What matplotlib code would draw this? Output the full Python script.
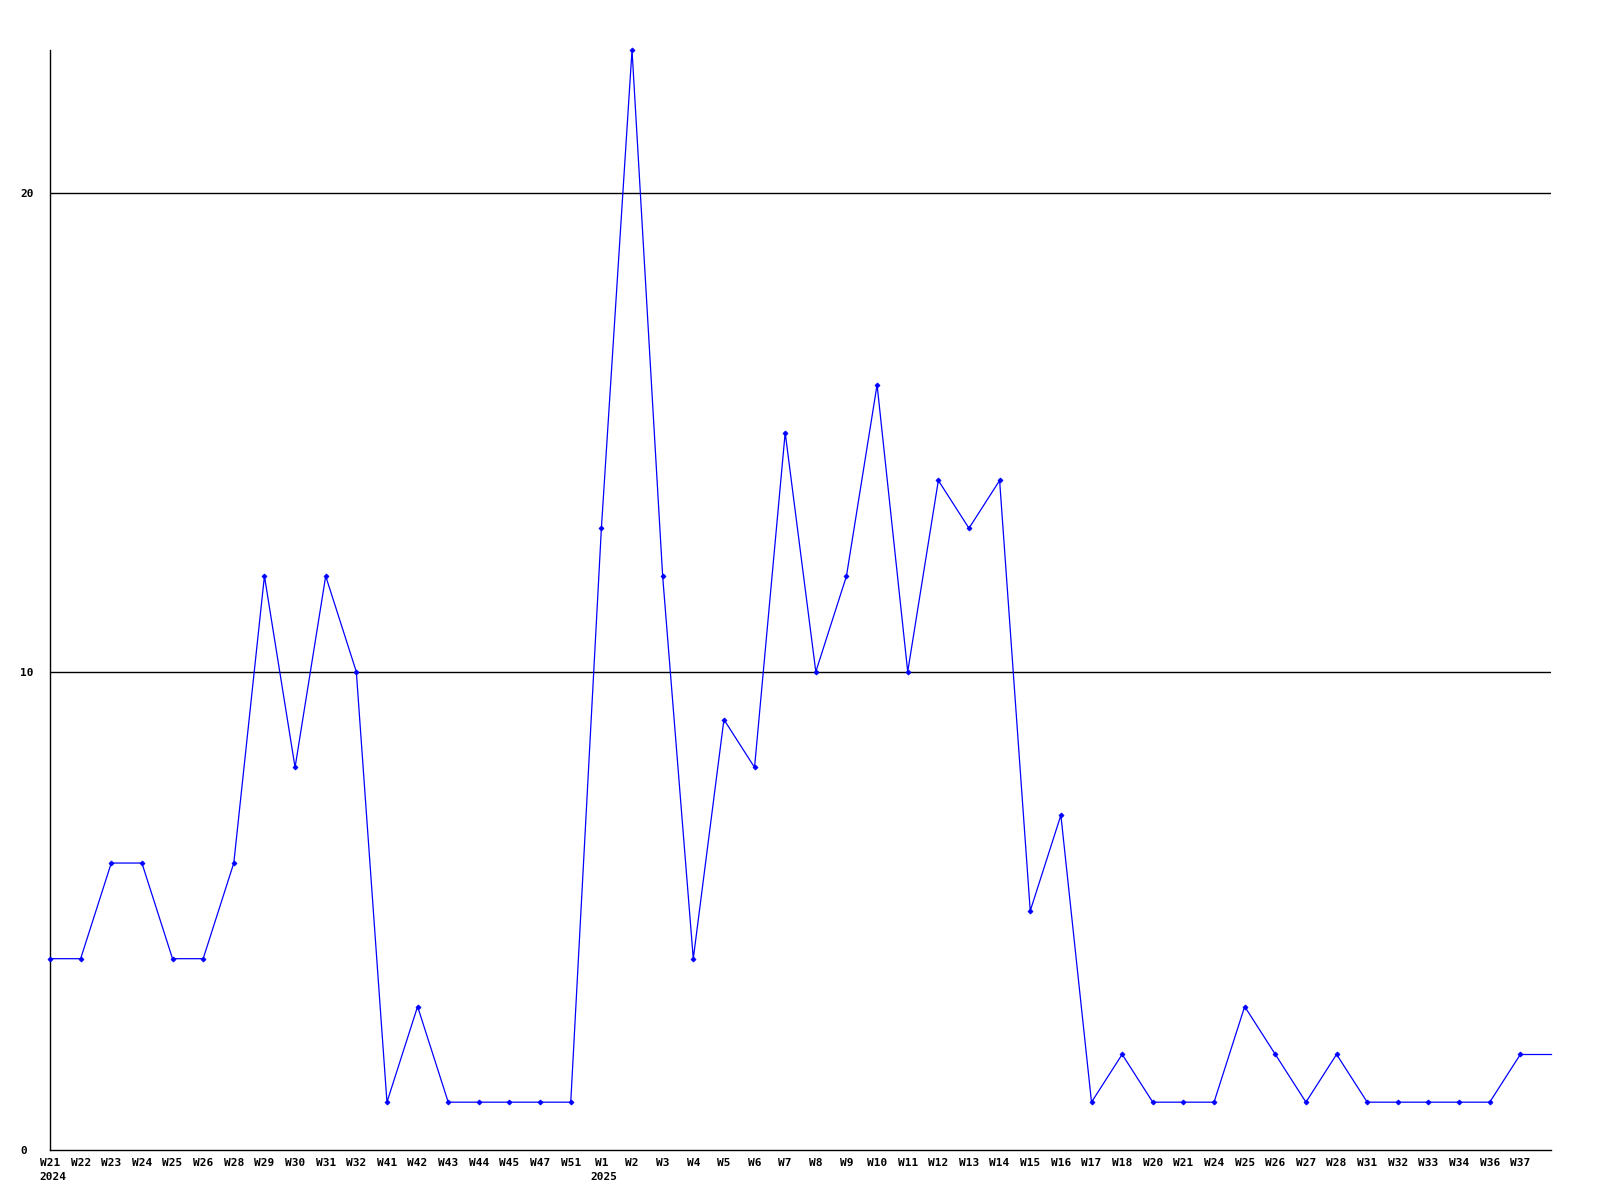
import matplotlib
matplotlib.use("Agg")
import matplotlib.pyplot as plt
from matplotlib.transforms import blended_transform_factory

week_labels = ["W21", "W22", "W23", "W24", "W25", "W26", "W28", "W29", "W30", "W31",
               "W32", "W41", "W42", "W43", "W44", "W45", "W47", "W51",
               "W1", "W2", "W3", "W4", "W5", "W6", "W7", "W8", "W9", "W10",
               "W11", "W12", "W13", "W14", "W15", "W16", "W17", "W18", "W20", "W21",
               "W24", "W25", "W26", "W27", "W28", "W31", "W32", "W33", "W34", "W36", "W37"]
values = [4, 4, 6, 6, 4, 4, 6, 12, 8, 12, 10, 1, 3, 1, 1, 1, 1, 1,
          13, 23, 12, 4, 9, 8, 15, 10, 12, 16, 10, 14, 13, 14, 5, 7, 1, 2,
          1, 1, 1, 3, 2, 1, 2, 1, 1, 1, 1, 1, 2]
years = ["2024", "2025"]
year_start = [0, 18]
y_ticks = [0, 10, 20]

FONT = "DejaVu Sans Mono"
FS = 8

fig = plt.figure(figsize=(16, 12), dpi=100)
ax = fig.add_axes([50 / 1600, 50 / 1200, 1501 / 1600, 1100 / 1200])

n = len(values)
x = list(range(n))

for yv in y_ticks[1:]:
    ax.axhline(yv, color="black", linewidth=1.0, zorder=1)

ax.plot(x, values, color="#0000ff", linewidth=0.9, marker="D", markersize=2.6,
        markeredgewidth=0.5, clip_on=False, zorder=3)
ax.plot([n - 1, n], [values[-1], values[-1]], color="#0000ff", linewidth=0.9,
        clip_on=False, zorder=3)

ax.set_xlim(0, n)
ax.set_ylim(0, max(values))

for s in ["top", "right"]:
    ax.spines[s].set_visible(False)
for s in ["left", "bottom"]:
    ax.spines[s].set_linewidth(1.0)
    ax.spines[s].set_color("black")

ax.set_xticks(x)
ax.set_xticklabels(week_labels, fontfamily=FONT, fontweight="bold", fontsize=FS)
ax.tick_params(axis="x", length=0, pad=5.5)

ax.set_yticks(y_ticks)
ax.set_yticklabels([str(v) for v in y_ticks], fontfamily=FONT, fontweight="bold",
                   fontsize=FS, ha="left")
ax.tick_params(axis="y", length=0, pad=21.5)

trans = blended_transform_factory(ax.transData, ax.transAxes)
for yr, idx in zip(years, year_start):
    ax.annotate(yr, xy=(idx, 0), xycoords=trans, xytext=(-11, -27),
                textcoords="offset pixels", ha="left", va="center",
                fontfamily=FONT, fontweight="bold", fontsize=FS)

fig.savefig("out.png", dpi=100, facecolor="white")
